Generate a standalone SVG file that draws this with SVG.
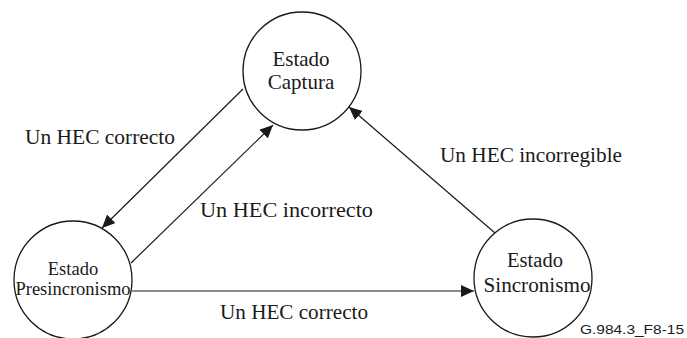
<svg xmlns="http://www.w3.org/2000/svg" width="687" height="338" viewBox="0 0 687 338">
<style>
.node{fill:#fff;stroke:#1a1a1a;stroke-width:1.3}
.t{font-family:"Liberation Serif","Times New Roman",serif;fill:#1a1a1a;text-anchor:middle}
.lbl{font-family:"Liberation Serif","Times New Roman",serif;font-size:21px;fill:#1a1a1a}
.edge{stroke:#1a1a1a;stroke-width:1.2;fill:none;marker-end:url(#ah)}
</style>
<defs>
<marker id="ah" markerUnits="userSpaceOnUse" markerWidth="14" markerHeight="12" refX="13" refY="6" orient="auto">
<path d="M0,0 L13,6 L0,12 z" fill="#1a1a1a"/>
</marker>
</defs>
<rect width="687" height="338" fill="#fff"/>
<g id="connectors">
<line class="edge" x1="243" y1="89" x2="102" y2="228"/>
<line class="edge" x1="131" y1="263" x2="273" y2="125"/>
<line class="edge" x1="495" y1="233" x2="349" y2="107"/>
<line class="edge" x1="132" y1="291" x2="474" y2="291"/>
<text class="lbl" x="25" y="144" textLength="150" lengthAdjust="spacingAndGlyphs">Un HEC correcto</text>
<text class="lbl" x="200" y="217" textLength="173" lengthAdjust="spacingAndGlyphs">Un HEC incorrecto</text>
<text class="lbl" x="440" y="162" textLength="182" lengthAdjust="spacingAndGlyphs">Un HEC incorregible</text>
<text class="lbl" x="220" y="319" textLength="148" lengthAdjust="spacingAndGlyphs">Un HEC correcto</text>
</g>
<g id="captura">
<circle class="node" cx="302" cy="71" r="59"/>
<text class="t" x="301" y="66" font-size="21">Estado</text>
<text class="t" x="301" y="89" font-size="21">Captura</text>
</g>
<g id="presincronismo">
<circle class="node" cx="73" cy="280" r="59"/>
<text class="t" x="73" y="275" font-size="18.5">Estado</text>
<text class="t" x="73" y="295" font-size="18.5">Presincronismo</text>
</g>
<g id="sincronismo">
<circle class="node" cx="533" cy="278" r="59"/>
<text class="t" x="535" y="267" font-size="20.5">Estado</text>
<text class="t" x="537" y="292" font-size="20.5" textLength="107" lengthAdjust="spacingAndGlyphs">Sincronismo</text>
</g>
<text x="580" y="334" font-family="Liberation Sans, Arial, sans-serif" font-size="13.5" fill="#1a1a1a" textLength="104" lengthAdjust="spacingAndGlyphs">G.984.3_F8-15</text>
</svg>
